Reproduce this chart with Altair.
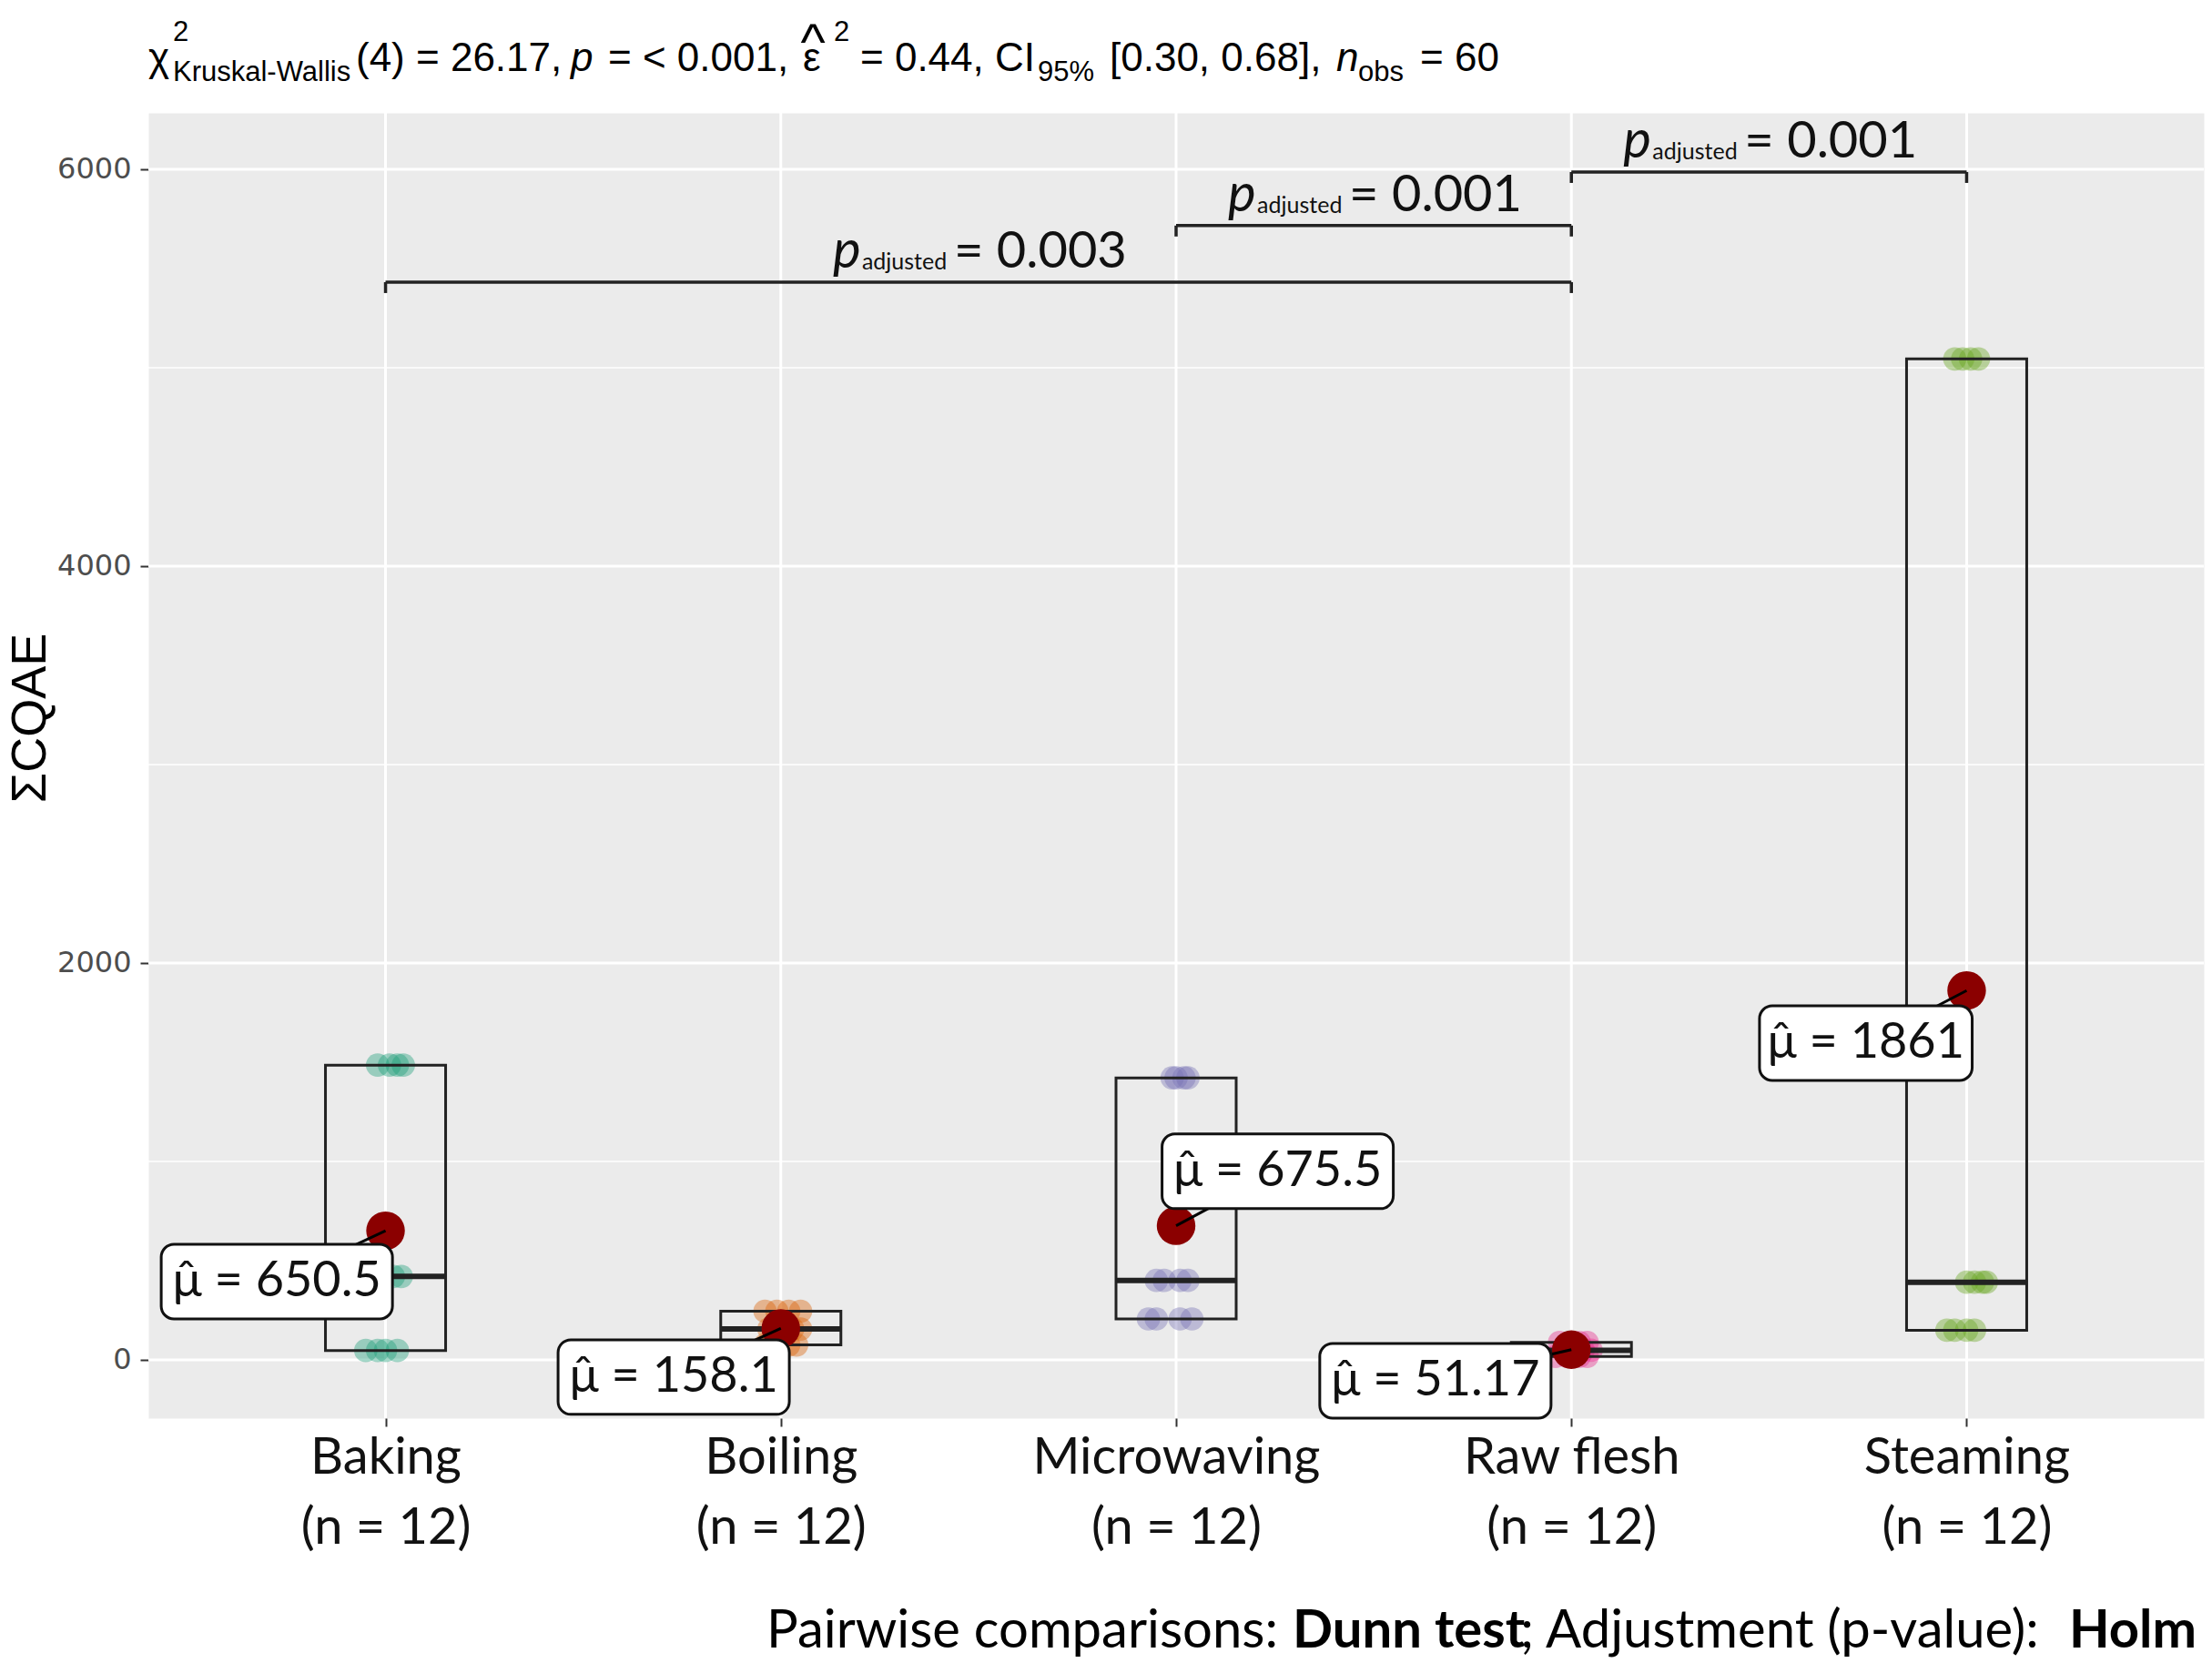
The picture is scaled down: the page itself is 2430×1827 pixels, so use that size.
import json
import altair as alt
import pandas as pd

# ---------------- data ----------------
categories = ["Baking", "Boiling", "Microwaving", "Raw flesh", "Steaming"]
n_obs = [12, 12, 12, 12, 12]
colors = ["#1B9E77", "#D95F02", "#7570B3", "#E7298A", "#66A61E"]

baking = [1485, 1485, 1485, 1485, 420, 420, 420, 420, 47, 47, 47, 47]
boiling = [245, 245, 245, 245, 155, 155, 155, 155, 75, 75, 75, 75]
microwaving = [1421, 1421, 1421, 1421, 400, 400, 400, 400, 206, 206, 206, 206]
raw_flesh = [88, 88, 88, 88, 48, 48, 48, 48, 17, 17, 17, 17]
steaming = [5044, 5044, 5044, 5044, 391, 391, 391, 391, 149, 149, 149, 149]
group_values = [baking, boiling, microwaving, raw_flesh, steaming]

# horizontal jitter (category units)
baking_jit = [-0.02, 0.01, 0.03, 0.045, -0.05, -0.02, 0.02, 0.04, -0.05, -0.02, 0.0, 0.03]
boiling_jit = [-0.04, -0.01, 0.02, 0.05, -0.03, 0.0, 0.03, 0.05, -0.04, -0.01, 0.02, 0.04]
microwaving_jit = [-0.01, 0.0, 0.02, 0.03, -0.05, -0.03, 0.01, 0.03, -0.07, -0.05, 0.01, 0.04]
raw_flesh_jit = [-0.03, 0.0, 0.02, 0.04, -0.02, 0.01, 0.03, 0.05, -0.04, -0.01, 0.02, 0.04]
steaming_jit = [-0.03, -0.01, 0.01, 0.03, 0.0, 0.02, 0.04, 0.05, -0.05, -0.03, 0.0, 0.02]
group_jitter = [baking_jit, boiling_jit, microwaving_jit, raw_flesh_jit, steaming_jit]

means = [650.5, 158.1, 675.5, 51.17, 1861]
mean_text = ["650.5", "158.1", "675.5", "51.17", "1861"]
# repelled label centres (category units, value units)
label_x = [-0.275, 0.729, 2.257, 2.656, 3.745]
label_y = [394, -87, 950, -106, 1596]

bracket_from = [0, 2, 3]
bracket_to = [3, 3, 4]
bracket_y = [5431, 5716, 5986]
bracket_p = ["0.003", "0.001", "0.001"]

# ---------------- layout ----------------
W, H = 2258, 1434
LEFT, TOP = 163, 124
TOTAL_W, TOTAL_H = 2430, 1827

rows = []
for i, (vals, jits) in enumerate(zip(group_values, group_jitter)):
    for v, j in zip(vals, jits):
        rows.append({"idx": i, "cat": categories[i], "value": v, "jit": j})
pts = pd.DataFrame(rows)

mean_df = pd.DataFrame({
    "idx": list(range(len(categories))),
    "cat": categories,
    "mean": means,
    "lx": label_x,
    "ly": label_y,
    "label": ["\u03bc\u0302 = " + t for t in mean_text],
    "nch": [len(t) for t in mean_text],
})

br_df = pd.DataFrame({"a": bracket_from, "b": bracket_to, "y": bracket_y, "p": bracket_p})

xscale = alt.Scale(domain=[-0.6, 4.6], nice=False, zero=False)
yscale = alt.Scale(domain=[-294, 6284], nice=False, zero=False)

label_expr = ("[" + json.dumps(categories) + "[datum.value], '(n = ' + "
              + json.dumps(n_obs) + "[datum.value] + ')']")
xaxis = alt.Axis(values=[0, 1, 2, 3, 4], labelExpr=label_expr, labelFont="Lato",
                 labelFontSize=56, labelColor="#111111", labelLineHeight=77,
                 labelPadding=7, labelLimit=1000, tickColor="#333333", tickSize=9,
                 tickWidth=2, domain=False, grid=False, title=None, labelOverlap=False)
yaxis = alt.Axis(values=[0, 2000, 4000, 6000], format="d", labelFont="DejaVu Sans",
                 labelFontSize=32, labelColor="#4D4D4D", tickColor="#333333", tickSize=9,
                 tickWidth=2, labelPadding=10, domain=False, grid=False, title=None)


def X(f):
    return alt.X(f, type="quantitative", scale=xscale, axis=xaxis)


def Y(f):
    return alt.Y(f, type="quantitative", scale=yscale, axis=yaxis)


# grid
grid_major = alt.Chart(pd.DataFrame({"v": [0, 2000, 4000, 6000]})).mark_rule(
    color="white", strokeWidth=3).encode(y=Y("v"))
grid_minor = alt.Chart(pd.DataFrame({"v": [1000, 3000, 5000]})).mark_rule(
    color="white", strokeWidth=1.5).encode(y=Y("v"))
grid_x = alt.Chart(pd.DataFrame({"i": [0, 1, 2, 3, 4]})).mark_rule(
    color="white", strokeWidth=3).encode(x=X("i"))

points = alt.Chart(pts).transform_calculate(xj="datum.idx + datum.jit").mark_circle(
    size=660, opacity=0.4, strokeWidth=0).encode(
    x=X("xj"), y=Y("value"),
    color=alt.Color("cat:N", scale=alt.Scale(domain=categories, range=colors), legend=None))

box_base = alt.Chart(pts).transform_aggregate(
    q1="q1(value)", med="median(value)", q3="q3(value)", groupby=["idx"]
).transform_calculate(x0="datum.idx - 0.152", x1="datum.idx + 0.152")
boxes = box_base.mark_rect(fill="transparent", stroke="#222222", strokeWidth=3).encode(
    x=X("x0"), x2="x1", y=Y("q1"), y2="q3")
medians = box_base.mark_rule(color="#222222", strokeWidth=6).encode(
    x=X("x0"), x2="x1", y=Y("med"))

mean_pts = alt.Chart(mean_df).mark_circle(size=1800, color="#8B0000", opacity=1).encode(
    x=X("idx"), y=Y("mean"))
segs = alt.Chart(mean_df).mark_rule(color="black", strokeWidth=3).encode(
    x=X("idx"), y=Y("mean"), x2="lx", y2="ly")
lab_rect = alt.Chart(mean_df).transform_calculate(
    rx0="datum.lx - (0.175 + 0.0235 * datum.nch)",
    rx1="datum.lx + (0.175 + 0.0235 * datum.nch)",
    ry0="datum.ly - 188", ry1="datum.ly + 188",
).mark_rect(fill="white", stroke="#111111", strokeWidth=3, cornerRadius=14).encode(
    x=X("rx0"), x2="rx1", y=Y("ry0"), y2="ry1")
lab_text = alt.Chart(mean_df).mark_text(font="Lato", fontSize=54, color="#111111",
                                        align="center", baseline="middle").encode(
    x=X("lx"), y=Y("ly"), text="label:N")

# significance brackets
br = alt.Chart(br_df).transform_calculate(mid="(datum.a + datum.b) / 2", yt="datum.y - 55")
br_h = br.mark_rule(color="#222222", strokeWidth=3.5).encode(x=X("a"), x2="b", y=Y("y"))
br_l = br.mark_rule(color="#222222", strokeWidth=3.5).encode(x=X("a"), y=Y("y"), y2="yt")
br_r = br.mark_rule(color="#222222", strokeWidth=3.5).encode(x=X("b"), y=Y("y"), y2="yt")
br_p = br.mark_text(text="p", font="Lato", fontStyle="italic", fontSize=58, color="#111111",
                    align="left", baseline="alphabetic", dx=-160, dy=-16).encode(
    x=X("mid"), y=Y("y"))
br_adj = br.mark_text(text="adjusted", font="Lato", fontSize=25, color="#111111",
                      align="left", baseline="alphabetic", dx=-128, dy=-14).encode(
    x=X("mid"), y=Y("y"))
br_val = br.transform_calculate(t="'= ' + datum.p").mark_text(
    font="Lato", fontSize=56, color="#111111", align="left", baseline="alphabetic",
    dx=-27, dy=-16).encode(x=X("mid"), y=Y("y"), text="t:N")

dummy = pd.DataFrame({"a": [0]})


def seg(text, x, y, size, font="Liberation Sans", style="normal", weight="normal",
        align="left", angle=0, baseline="alphabetic", color="black"):
    return alt.Chart(dummy).mark_text(
        text=text, font=font, fontSize=size, fontStyle=style, fontWeight=weight,
        align=align, baseline=baseline, angle=angle, color=color
    ).encode(x=alt.value(x - LEFT), y=alt.value(y - TOP))


title_segs = [
    seg("\u03c7", 163, 78, 44),
    seg("2", 190, 45, 31),
    seg("Kruskal-Wallis", 190, 89, 31),
    seg("(4) = 26.17,", 391, 78, 44),
    seg("p", 627, 78, 44, style="italic"),
    seg("= < 0.001,", 668, 78, 44),
    seg("\u03b5", 882, 78, 44),
    seg("^", 893, 66, 58, align="center"),
    seg("2", 916, 45, 31),
    seg("= 0.44, CI", 945, 78, 44),
    seg("95%", 1140, 89, 31),
    seg("[0.30, 0.68],", 1219, 78, 44),
    seg("n", 1468, 78, 44, style="italic"),
    seg("obs", 1492, 89, 31),
    seg("= 60", 1560, 78, 44),
]

caption_segs = [
    seg("Pairwise comparisons:", 842, 1810, 58, font="Lato"),
    seg("Dunn test", 1420, 1810, 58, font="Lato", weight="bold"),
    seg("; Adjustment (p-value):", 1670, 1810, 58, font="Lato"),
    seg("Holm", 2413, 1810, 58, font="Lato", weight="bold", align="right"),
]

ytitle = seg("\u03a3CQAE", 34, 789, 54, align="center", baseline="middle", angle=270)

layers = [grid_minor, grid_major, grid_x, points, boxes, medians, mean_pts, segs,
          lab_rect, lab_text, br_h, br_l, br_r, br_p, br_adj, br_val, ytitle] \
    + title_segs + caption_segs

chart = alt.layer(*layers).properties(
    width=W, height=H,
    autosize=alt.AutoSizeParams(type="none"),
    padding={"left": LEFT, "top": TOP, "right": TOTAL_W - LEFT - W,
             "bottom": TOTAL_H - TOP - H},
    background="white",
).configure_view(fill="#EBEBEB", stroke="transparent")

chart.save("out.html", embed_options={"renderer": "svg", "actions": False})
